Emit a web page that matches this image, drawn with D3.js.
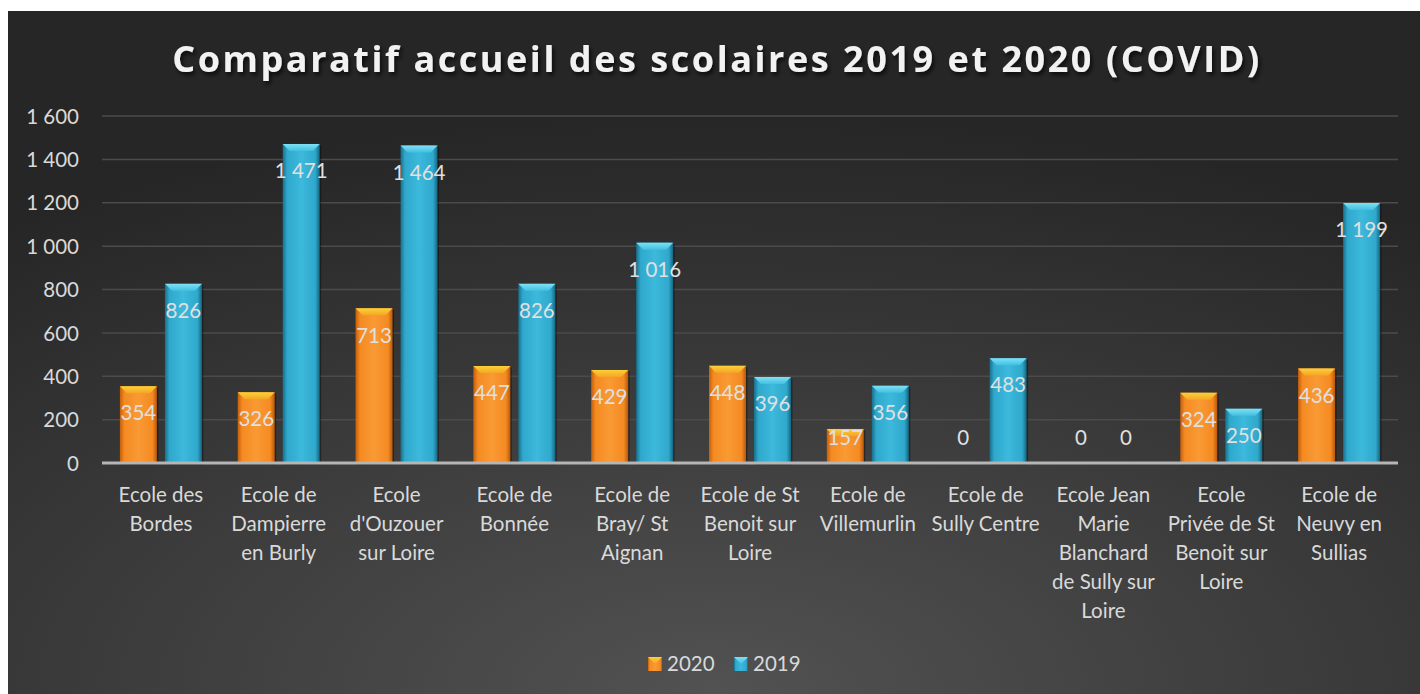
<!DOCTYPE html>
<html><head><meta charset="utf-8">
<script src="https://cdn.jsdelivr.net/npm/d3@7"></script>
<style>html,body{margin:0;padding:0;background:#fff;}svg{display:block;}</style>
</head><body>
<svg id="chart" width="1420" height="694"></svg>
<script>
const categories = [
  ["Ecole des","Bordes"],
  ["Ecole de","Dampierre","en Burly"],
  ["Ecole","d'Ouzouer","sur Loire"],
  ["Ecole de","Bonnée"],
  ["Ecole de","Bray/ St","Aignan"],
  ["Ecole de St","Benoit sur","Loire"],
  ["Ecole de","Villemurlin"],
  ["Ecole de","Sully Centre"],
  ["Ecole Jean","Marie","Blanchard","de Sully sur","Loire"],
  ["Ecole","Privée de St","Benoit sur","Loire"],
  ["Ecole de","Neuvy en","Sullias"]
];
const values2020 = [354, 326, 713, 447, 429, 448, 157, 0, 0, 324, 436];
const values2019 = [826, 1471, 1464, 826, 1016, 396, 356, 483, 0, 250, 1199];
const seriesNames = ["2020", "2019"];
const yTicks = [0, 200, 400, 600, 800, 1000, 1200, 1400, 1600];
const title = "Comparatif accueil des scolaires 2019 et 2020 (COVID)";

const fmt = v => d3.format(",")(v).replace(/,/g, " ");
const svg = d3.select("#chart");
const defs = svg.append("defs");

// background
const bg = defs.append("radialGradient").attr("id","bg")
  .attr("cx","50%").attr("cy","100%").attr("r","85%").attr("fx","50%").attr("fy","100%");
bg.append("stop").attr("offset","0%").attr("stop-color","#525252");
bg.append("stop").attr("offset","100%").attr("stop-color","#262626");

const palettes = {
  "2020": {body:["#c4600c","#f58a22","#f99a34","#f58a22","#b9580a"], top:"#fbd03a", topEdge:"#f5a623"},
  "2019": {body:["#17708c","#2fa8cc","#3cb9dc","#2fa8cc","#156680"], top:"#7fe0f5", topEdge:"#40c0e0"}
};
seriesNames.forEach(s => {
  const g = defs.append("linearGradient").attr("id","g"+s).attr("x1","0").attr("x2","1").attr("y1","0").attr("y2","0");
  const c = palettes[s].body;
  [0,0.12,0.5,0.88,1].forEach((o,i)=>g.append("stop").attr("offset",o).attr("stop-color",c[i]));
  const t = defs.append("linearGradient").attr("id","t"+s).attr("x1","0").attr("x2","0").attr("y1","0").attr("y2","1");
  t.append("stop").attr("offset",0).attr("stop-color",palettes[s].top);
  t.append("stop").attr("offset",1).attr("stop-color",palettes[s].topEdge);
});
const sh = defs.append("filter").attr("id","tsh").attr("x","-5%").attr("y","-20%").attr("width","110%").attr("height","160%");
sh.append("feDropShadow").attr("dx",2).attr("dy",3).attr("stdDeviation",2).attr("flood-color","#000").attr("flood-opacity",0.7);

svg.append("rect").attr("x",8).attr("y",11).attr("width",1412).attr("height",683).attr("fill","url(#bg)");

const margin = {left:102, right:1398, top:116, bottom:463};
const x0 = d3.scaleBand().domain(d3.range(categories.length)).range([margin.left, margin.right]).paddingInner(0).paddingOuter(0);
const x1 = d3.scaleBand().domain(seriesNames).range([0, x0.bandwidth()]).paddingInner(0.178).paddingOuter(0.398);
const y = d3.scaleLinear().domain([0,1600]).range([margin.bottom, margin.top]);

const font = "Lato, 'Open Sans', sans-serif";
const fs = 20.5;

// grid
svg.append("g").selectAll("line").data(yTicks.filter(d=>d>0)).join("line")
  .attr("x1",margin.left).attr("x2",margin.right)
  .attr("y1",d=>y(d)).attr("y2",d=>y(d))
  .attr("stroke","#4b4b4b").attr("stroke-width",1.5);

// y axis labels
const yAxis = d3.axisLeft(y).tickValues(yTicks).tickFormat(fmt).tickSize(0).tickPadding(0);
const ya = svg.append("g").attr("transform",`translate(79,0)`).call(yAxis);
ya.select(".domain").remove();
ya.selectAll("text").attr("fill","#d9d9d9").attr("font-family",font).attr("font-size",fs).attr("dy","0.35em");

// title
svg.append("text").attr("x",717).attr("y",72).attr("text-anchor","middle")
  .attr("font-family","'Open Sans', sans-serif").attr("font-weight","bold").attr("font-size",36)
  .attr("letter-spacing",2.55).attr("fill","#f2f2f2").attr("filter","url(#tsh)").text(title);

// bars
const data = categories.map((c,i)=>({i, vals:[{s:"2020",v:values2020[i]},{s:"2019",v:values2019[i]}]}));
const groups = svg.append("g").selectAll("g").data(data).join("g")
  .attr("transform",d=>`translate(${x0(d.i)},0)`);
const bars = groups.selectAll("g.bar").data(d=>d.vals).join("g").attr("class","bar");
const bw = x1.bandwidth();
bars.each(function(d){
  const g = d3.select(this);
  const xx = x1(d.s), yt = y(d.v), h = y(0)-y(d.v);
  if (h <= 0) return;
  g.append("rect").attr("x",xx+1.5).attr("y",yt+1.5).attr("width",bw).attr("height",h).attr("fill","#000").attr("opacity",0.35);
  g.append("rect").attr("x",xx).attr("y",yt).attr("width",bw).attr("height",h).attr("fill",`url(#g${d.s})`);
  const b = Math.min(7, h/2);
  g.append("polygon").attr("points",`${xx},${yt} ${xx+bw},${yt} ${xx+bw-b},${yt+b} ${xx+b},${yt+b}`).attr("fill",`url(#t${d.s})`);
});
// baseline
svg.append("line").attr("x1",margin.left).attr("x2",margin.right).attr("y1",y(0)).attr("y2",y(0))
  .attr("stroke","#b5b5b5").attr("stroke-width",3);
// value labels
bars.append("text")
  .attr("x",d=>x1(d.s)+bw/2)
  .attr("y",d=>Math.min(y(d.v)+27, y(0)-25))
  .attr("dy","0.35em").attr("text-anchor","middle")
  .attr("font-family",font).attr("font-size",fs).attr("fill","#e0e0e0")
  .text(d=>fmt(d.v));

// category labels
groups.append("text").attr("text-anchor","middle").attr("font-family",font).attr("font-size",fs).attr("fill","#d9d9d9")
  .each(function(d){
    const t = d3.select(this);
    categories[d.i].forEach((line,k)=>{
      t.append("tspan").attr("x",x0.bandwidth()/2).attr("y",495+k*29).attr("dy","0.35em").text(line);
    });
  });

// legend
const leg = svg.append("g");
const legX = [648, 734];
seriesNames.forEach((s,i)=>{
  const lg = leg.append("g").attr("transform",`translate(${legX[i]},657)`);
  lg.append("rect").attr("width",14).attr("height",14).attr("fill",`url(#g${s})`);
  lg.append("polygon").attr("points","0,0 14,0 7,7").attr("fill",`url(#t${s})`);
  lg.append("text").attr("x",19).attr("y",7).attr("dy","0.35em").attr("font-family",font).attr("font-size",fs).attr("fill","#d9d9d9").text(s);
});
</script>
</body></html>
